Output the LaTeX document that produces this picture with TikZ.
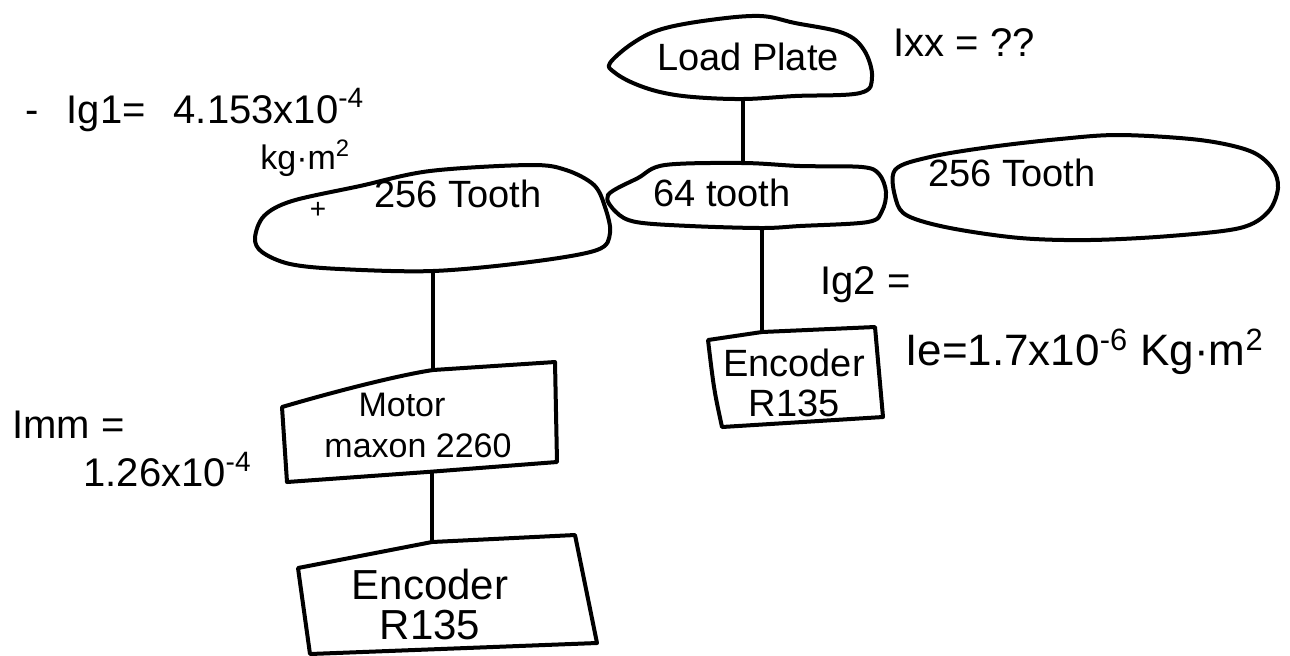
\documentclass[tikz,border=0pt]{standalone}
\usepackage{fontspec}
\setmainfont{Liberation Sans}
\begin{document}
\begin{tikzpicture}[x=0.5pt,y=-0.5pt,
  outline/.style={line width=2pt, line join=round, line cap=round},
  conn/.style={line width=2pt, line cap=round},
  lbl/.style={font=\fontsize{19}{21}\selectfont, inner sep=0pt},
  note/.style={font=\fontsize{20}{22}\selectfont, inner sep=0pt}]
\useasboundingbox (0,0) rectangle (1290,655);
\fill[white] (0,0) rectangle (1290,655);

% ---- Load Plate blob
\draw[outline] plot[smooth cycle, tension=0.6] coordinates {
 (610,63) (633,43) (662,29) (710,20) (760,16) (795,23) (843,33) (864,50)
 (872,77) (860,93) (795,96) (743,99) (693,97) (660,92) (633,83) (614,72)};
\node[lbl] (lp) at (748,57) {Load Plate};

% ---- 64 tooth blob
\draw[outline] plot[smooth cycle, tension=0.55] coordinates {
 (608,195) (638,178) (665,165) (743,163) (800,166) (862,167) (879,174)
 (886,192) (882,211) (868,222) (800,226) (762,228) (690,226) (636,222) (616,212)};
\node[lbl] (t64) at (722,193) {64 tooth};

% ---- left 256 tooth gear
\draw[outline] plot[smooth cycle, tension=0.55] coordinates {
 (255,238) (264,216) (292,201) (360,186) (430,171) (530,165) (566,170)
 (594,185) (605,207) (610,233) (597,250) (530,262) (433,271) (340,269)
 (290,264) (262,252)};
\node[lbl] (g1) at (458,194) {256 Tooth};
\node[font=\fontsize{14}{14}\selectfont, inner sep=0pt] (plus) at (318,210) {+};

% ---- right 256 tooth gear
\draw[outline] plot[smooth cycle, tension=0.55] coordinates {
 (895,170) (930,157) (990,147) (1060,139) (1120,135) (1200,140) (1250,151)
 (1272,168) (1278,188) (1268,212) (1240,228) (1170,236) (1090,240)
 (1020,238) (950,228) (908,216) (896,200)};
\node[lbl] (g2) at (1012,173) {256 Tooth};

% ---- Motor box
\draw[outline] (282,407) .. controls (340,390) and (400,375) .. (433,370)
  -- (555,362) -- (557,462) -- (427,472) -- (287,482) -- cycle;
\node[lbl, font=\fontsize{17}{19}\selectfont] (mot) at (402,405) {Motor};
\node[lbl, font=\fontsize{17}{19}\selectfont] (mot2) at (418,446) {maxon 2260};

% ---- left Encoder box
\draw[outline] (298,568) -- (432,542) -- (575,535) -- (597,643)
  -- (310,654) -- cycle;
\node[lbl, align=center, font=\fontsize{21}{23}\selectfont] (enc1) at (430,604) {Encoder\\[-3pt]R135};

% ---- right Encoder box
\draw[outline] (708,340) -- (762,332) -- (875,327) -- (883,417)
  -- (722,427) .. controls (714,390) .. (708,340) -- cycle;
\node[lbl, align=center] (enc2) at (794,383) {Encoder\\[-1pt]R135};

% ---- connectors
\coordinate (lpS) at (743,99);
\coordinate (t64N) at (743,163);
\coordinate (t64S) at (762,228);
\coordinate (enc2N) at (762,332);
\coordinate (g1S) at (433,271);
\coordinate (motN) at (433,370);
\coordinate (motS) at (432,472);
\coordinate (enc1N) at (432,542);
\draw[conn] (lpS) -- (t64N);
\draw[conn] (t64S) -- (enc2N);
\draw[conn] (g1S) -- (motN);
\draw[conn] (motS) -- (enc1N);

% ---- annotations
\node[note, anchor=west] (ig1) at (25,110) {-\hspace{14pt}Ig1=\hspace{14pt}4.153x10\textsuperscript{-4}};
\node[note, anchor=west, font=\fontsize{17}{19}\selectfont] (ig1u) at (260,158) {kg·m\textsuperscript{2}};
\node[note, anchor=west] (ixx) at (893,43) {Ixx = ??};
\node[note, anchor=west] (ig2) at (820,285) {Ig2 =};
\node[note, anchor=west, font=\fontsize{22}{24}\selectfont] (ie) at (905,352) {Ie=1.7x10\textsuperscript{-6} Kg·m\textsuperscript{2}};
\node[note, anchor=west] (imm) at (12,425) {Imm =};
\node[note, anchor=west] (imv) at (83,470) {1.26x10\textsuperscript{-4}};
\end{tikzpicture}
\end{document}
